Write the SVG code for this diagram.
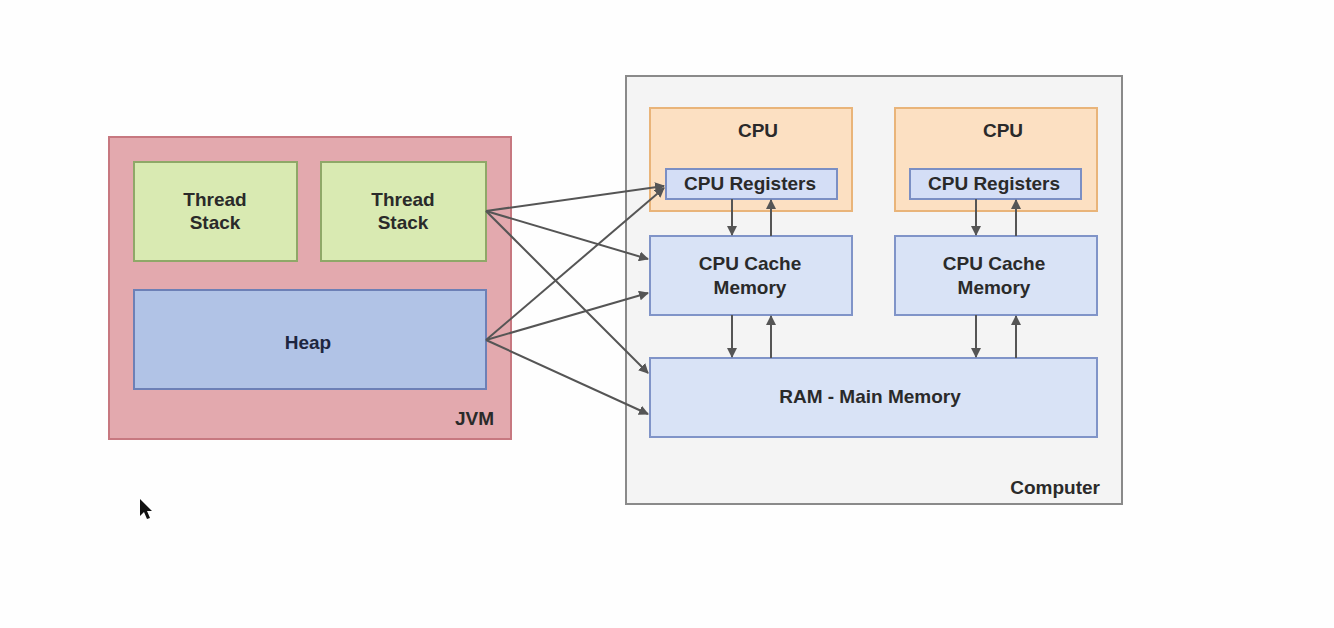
<svg xmlns="http://www.w3.org/2000/svg" width="1334" height="628" viewBox="0 0 1334 628">
<style>
text{font-family:"Liberation Sans",Arial,sans-serif;font-weight:bold;font-size:19px;fill:#2a2a2a;text-anchor:middle}
.jvm{fill:#e3a9ae;stroke:#c77880;stroke-width:2}
.ts{fill:#d9eab2;stroke:#8fa868;stroke-width:2}
.heap{fill:#b1c3e6;stroke:#6d80b6;stroke-width:2}
.comp{fill:#f4f4f4;stroke:#8a8a8a;stroke-width:2}
.cpu{fill:#fce0c2;stroke:#e9b479;stroke-width:2}
.reg{fill:#d4def6;stroke:#7b8fc4;stroke-width:2}
.mem{fill:#d9e3f6;stroke:#8094c8;stroke-width:2}
.c{stroke:#555;stroke-width:2;fill:none;marker-end:url(#ah)}
</style>
<defs>
<marker id="ah" viewBox="0 0 10 10" refX="9" refY="5" markerWidth="5" markerHeight="5" orient="auto" markerUnits="strokeWidth">
<path d="M0,0 L10,5 L0,10 z" fill="#555"/>
</marker>
</defs>
<rect width="1334" height="628" fill="#fefefe"/>
<g id="jvm">
<rect class="jvm" x="109" y="137" width="402" height="302"/>
<text x="494" y="425" text-anchor="end" style="text-anchor:end" fill="#3a1a1e">JVM</text>
</g>
<g id="thread-stack-1">
<rect class="ts" x="134" y="162" width="163" height="99"/>
<text x="215" y="206">Thread</text>
<text x="215" y="229">Stack</text>
</g>
<g id="thread-stack-2">
<rect class="ts" x="321" y="162" width="165" height="99"/>
<text x="403" y="206">Thread</text>
<text x="403" y="229">Stack</text>
</g>
<g id="heap">
<rect class="heap" x="134" y="290" width="352" height="99"/>
<text x="308" y="349" style="fill:#1e2640">Heap</text>
</g>
<g id="computer">
<rect class="comp" x="626" y="76" width="496" height="428"/>
<text x="1100" y="494" style="text-anchor:end">Computer</text>
</g>
<g id="cpu-1">
<rect class="cpu" x="650" y="108" width="202" height="103"/>
<text x="758" y="137">CPU</text>
</g>
<g id="cpu-registers-1">
<rect class="reg" x="666" y="169" width="171" height="30"/>
<text x="750" y="190">CPU Registers</text>
</g>
<g id="cpu-2">
<rect class="cpu" x="895" y="108" width="202" height="103"/>
<text x="1003" y="137">CPU</text>
</g>
<g id="cpu-registers-2">
<rect class="reg" x="910" y="169" width="171" height="30"/>
<text x="994" y="190">CPU Registers</text>
</g>
<g id="cpu-cache-1">
<rect class="mem" x="650" y="236" width="202" height="79"/>
<text x="750" y="270">CPU Cache</text>
<text x="750" y="294">Memory</text>
</g>
<g id="cpu-cache-2">
<rect class="mem" x="895" y="236" width="202" height="79"/>
<text x="994" y="270">CPU Cache</text>
<text x="994" y="294">Memory</text>
</g>
<g id="ram">
<rect class="mem" x="650" y="358" width="447" height="79"/>
<text x="870" y="403">RAM - Main Memory</text>
</g>
<g id="connectors">
<line class="c" x1="486" y1="211" x2="664" y2="186"/>
<line class="c" x1="486" y1="211" x2="648" y2="259"/>
<line class="c" x1="486" y1="211" x2="648" y2="373"/>
<line class="c" x1="486" y1="340" x2="664" y2="188"/>
<line class="c" x1="486" y1="340" x2="648" y2="293"/>
<line class="c" x1="486" y1="340" x2="648" y2="414"/>
<line class="c" x1="732" y1="199" x2="732" y2="235"/>
<line class="c" x1="771" y1="236" x2="771" y2="200"/>
<line class="c" x1="732" y1="315" x2="732" y2="357"/>
<line class="c" x1="771" y1="358" x2="771" y2="316"/>
<line class="c" x1="976" y1="199" x2="976" y2="235"/>
<line class="c" x1="1016" y1="236" x2="1016" y2="200"/>
<line class="c" x1="976" y1="315" x2="976" y2="357"/>
<line class="c" x1="1016" y1="358" x2="1016" y2="316"/>
</g>
<path d="M140,499 L140,516 L144,512 L147,519 L150,518 L147,511 L152,511 z" fill="#111"/>
</svg>
